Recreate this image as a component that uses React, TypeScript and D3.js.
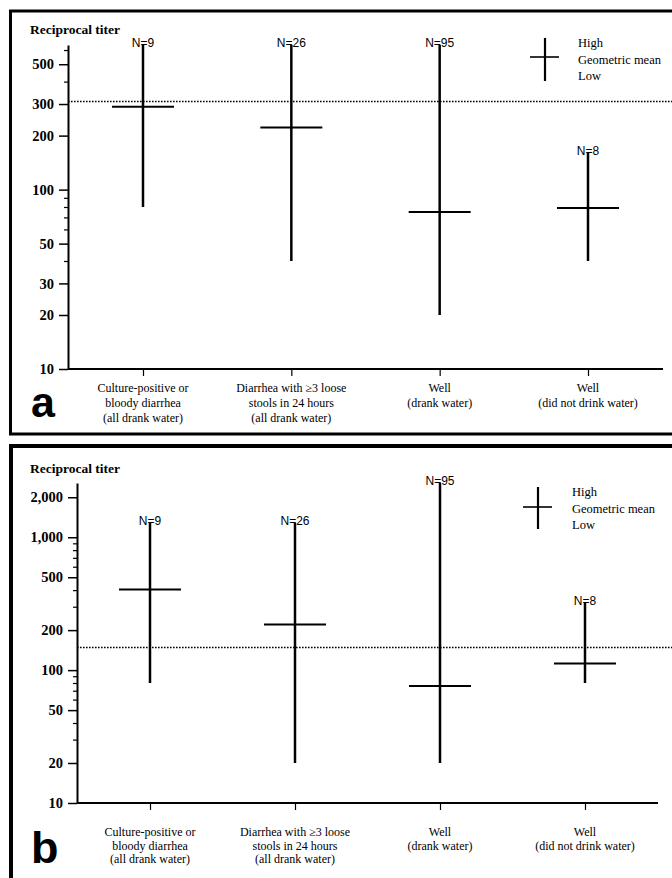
import React, { useEffect, useRef } from "react";
import * as d3 from "d3";

// categories (x axis), shared by both panels
const categoryLines: string[][] = [
  ["Culture-positive or", "bloody diarrhea", "(all drank water)"],
  ["Diarrhea with \u22653 loose", "stools in 24 hours", "(all drank water)"],
  ["Well", "(drank water)"],
  ["Well", "(did not drink water)"],
];
const groupSizes = ["N=9", "N=26", "N=95", "N=8"];

// panel a: reciprocal titers
const highA = [640, 640, 640, 160];
const meanA = [290, 222, 75, 79];
const lowA = [80, 40, 20, 40];
const refA = 310;
const majorTicksA = [10, 20, 30, 50, 100, 200, 300, 500];
const minorTicksA = [40, 60, 70, 80, 90, 400, 600];
const maxA = 640;

// panel b: reciprocal titers
const highB = [1280, 1280, 2560, 320];
const meanB = [405, 220, 76, 112];
const lowB = [80, 20, 20, 80];
const refB = 148;
const majorTicksB = [10, 20, 50, 100, 200, 500, 1000, 2000];
const minorTicksB = [30, 40, 60, 70, 80, 90, 300, 400, 600, 700, 800, 900];
const maxB = 2560;

const legendLabels = ["High", "Geometric mean", "Low"];

const SERIF = "'Liberation Serif', 'Times New Roman', serif";
const SANS = "'Liberation Sans', Arial, sans-serif";

type Panel = {
  letter: string;
  box: [number, number, number]; // top, bottom, border width
  axisX: number;
  axisTop: number;
  axisBottom: number;
  axisRight: number;
  xRange: [number, number];
  max: number;
  high: number[];
  mean: number[];
  low: number[];
  ref: number;
  major: number[];
  minor: number[];
  titleY: number;
  catTop: number;
  catStep: number;
  legend: { x: number; top: number; bottom: number; mid: number; textX: number };
  letterPos: [number, number, number];
};

const panels: Panel[] = [
  {
    letter: "a",
    box: [11, 434, 3],
    axisX: 68,
    axisTop: 45,
    axisBottom: 369,
    axisRight: 663,
    xRange: [143, 588],
    max: maxA,
    high: highA,
    mean: meanA,
    low: lowA,
    ref: refA,
    major: majorTicksA,
    minor: minorTicksA,
    titleY: 34,
    catTop: 392,
    catStep: 15,
    legend: { x: 545, top: 38, bottom: 81, mid: 57, textX: 578 },
    letterPos: [31, 417, 43],
  },
  {
    letter: "b",
    box: [446, 900, 4],
    axisX: 77,
    axisTop: 483,
    axisBottom: 803,
    axisRight: 658,
    xRange: [150, 585],
    max: maxB,
    high: highB,
    mean: meanB,
    low: lowB,
    ref: refB,
    major: majorTicksB,
    minor: minorTicksB,
    titleY: 473,
    catTop: 836,
    catStep: 13.5,
    legend: { x: 538, top: 487, bottom: 529, mid: 507, textX: 572 },
    letterPos: [31, 863, 45],
  },
];

const drawPanel = (svg: d3.Selection<SVGSVGElement, unknown, null, undefined>, p: Panel) => {
  const g = svg.append("g");

  // frame
  const bw = p.box[2];
  g.append("rect")
    .attr("x", 9 + bw / 2)
    .attr("y", p.box[0])
    .attr("width", 700)
    .attr("height", p.box[1] - p.box[0])
    .attr("fill", "none")
    .attr("stroke", "#000")
    .attr("stroke-width", bw);

  const y = d3.scaleLog().domain([10, p.max]).range([p.axisBottom, p.axisTop]);
  const x = d3.scalePoint<number>().domain(d3.range(categoryLines.length)).range(p.xRange);

  // y axis, major ticks
  const yAxis = g.append("g")
    .attr("transform", `translate(${p.axisX},0)`)
    .call(d3.axisLeft(y).tickValues(p.major).tickFormat(d3.format(",") as any).tickSize(9).tickSizeOuter(0).tickPadding(5));
  yAxis.select(".domain").attr("stroke-width", 2);
  yAxis.selectAll(".tick line").attr("stroke-width", 1.5);
  yAxis.selectAll(".tick text")
    .attr("font-family", SERIF)
    .attr("font-weight", "bold")
    .attr("font-size", 14.5)
    .attr("fill", "#000");

  // y axis, minor ticks
  const yMinor = g.append("g")
    .attr("transform", `translate(${p.axisX},0)`)
    .call(d3.axisLeft(y).tickValues(p.minor).tickFormat(() => "").tickSize(4).tickSizeOuter(0));
  yMinor.select(".domain").remove();
  yMinor.selectAll(".tick line").attr("stroke-width", 1.2);

  // x axis
  g.append("line")
    .attr("x1", p.axisX).attr("x2", p.axisRight)
    .attr("y1", p.axisBottom).attr("y2", p.axisBottom)
    .attr("stroke", "#000").attr("stroke-width", 2);
  const xAxis = g.append("g")
    .attr("transform", `translate(0,${p.axisBottom})`)
    .call(d3.axisBottom(x).tickSize(7).tickFormat(() => ""));
  xAxis.select(".domain").remove();
  xAxis.selectAll(".tick line").attr("stroke-width", 1.2);

  // category labels
  categoryLines.forEach((lines, i) => {
    const t = g.append("text")
      .attr("text-anchor", "middle")
      .attr("font-family", SERIF)
      .attr("font-size", 12)
      .attr("fill", "#000");
    lines.forEach((line, j) => {
      t.append("tspan")
        .attr("x", x(i)!)
        .attr("y", p.catTop + j * p.catStep)
        .text(line);
    });
  });

  // title
  g.append("text")
    .attr("x", 30)
    .attr("y", p.titleY)
    .attr("font-family", SERIF)
    .attr("font-weight", "bold")
    .attr("font-size", 13.5)
    .text("Reciprocal titer");

  // reference (dotted) line
  g.append("line")
    .attr("x1", p.axisX).attr("x2", 672)
    .attr("y1", y(p.ref)).attr("y2", y(p.ref))
    .attr("stroke", "#000").attr("stroke-width", 1.5)
    .attr("stroke-dasharray", "1.6,1.4");

  // high-low ranges
  const idx = d3.range(categoryLines.length);
  g.selectAll(".range")
    .data(idx)
    .join("line")
    .attr("x1", (i) => x(i)!).attr("x2", (i) => x(i)!)
    .attr("y1", (i) => y(p.high[i])).attr("y2", (i) => y(p.low[i]))
    .attr("stroke", "#000").attr("stroke-width", 2.5);

  // geometric means
  g.selectAll(".mean")
    .data(idx)
    .join("line")
    .attr("x1", (i) => x(i)! - 31).attr("x2", (i) => x(i)! + 31)
    .attr("y1", (i) => y(p.mean[i])).attr("y2", (i) => y(p.mean[i]))
    .attr("stroke", "#000").attr("stroke-width", 2);

  // group sizes
  g.selectAll(".n")
    .data(idx)
    .join("text")
    .attr("x", (i) => x(i)!)
    .attr("y", (i) => y(p.high[i]) + 1.5)
    .attr("text-anchor", "middle")
    .attr("font-family", SANS)
    .attr("font-size", 12)
    .text((i) => groupSizes[i]);

  // legend
  const L = p.legend;
  g.append("line")
    .attr("x1", L.x).attr("x2", L.x).attr("y1", L.top).attr("y2", L.bottom)
    .attr("stroke", "#000").attr("stroke-width", 2.2);
  g.append("line")
    .attr("x1", L.x - 15).attr("x2", L.x + 14).attr("y1", L.mid).attr("y2", L.mid)
    .attr("stroke", "#000").attr("stroke-width", 1.6);
  legendLabels.forEach((s, j) => {
    g.append("text")
      .attr("x", L.textX)
      .attr("y", L.top + 9 + j * 16.5)
      .attr("font-family", SERIF)
      .attr("font-size", 12.5)
      .text(s);
  });

  // panel letter
  g.append("text")
    .attr("x", p.letterPos[0])
    .attr("y", p.letterPos[1])
    .attr("font-family", SANS)
    .attr("font-weight", "bold")
    .attr("font-size", p.letterPos[2])
    .text(p.letter);
};

const App = () => {
  const ref = useRef<SVGSVGElement>(null);

  useEffect(() => {
    const svg = d3.select(ref.current!);
    svg.selectAll("*").remove();
    panels.forEach((p) => drawPanel(svg, p));
  }, []);

  return (
    <svg
      ref={ref}
      width={672}
      height={878}
      style={{ position: "absolute", left: 0, top: 0, background: "#fff" }}
    />
  );
};

export default App;
